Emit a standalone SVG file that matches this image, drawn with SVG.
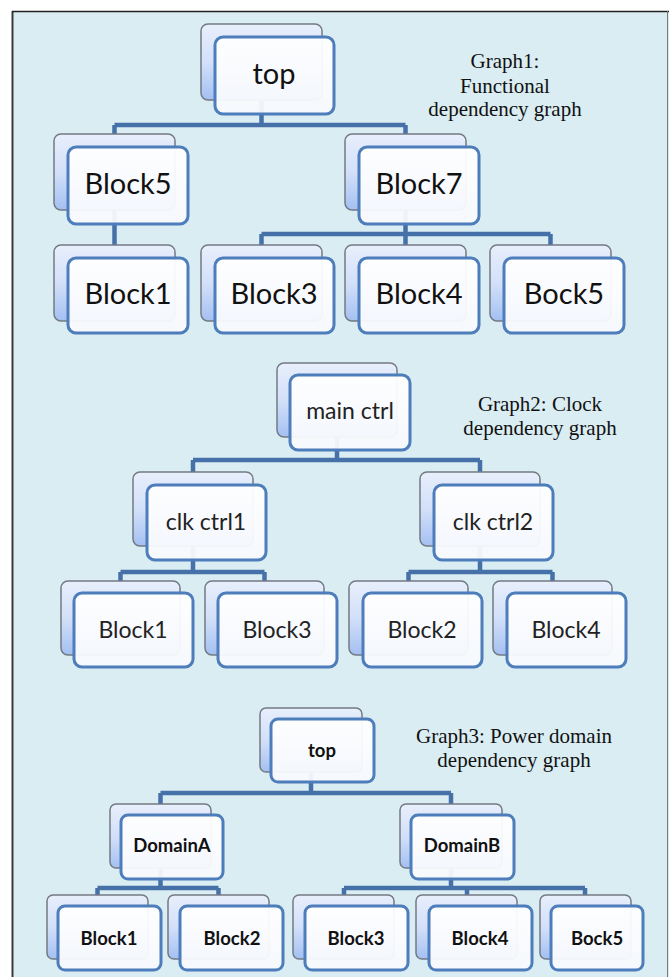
<svg xmlns="http://www.w3.org/2000/svg" width="669" height="977" viewBox="0 0 669 977">
<defs>
<linearGradient id="gb" x1="0" y1="0" x2="0" y2="1">
<stop offset="0" stop-color="#e8effc"/>
<stop offset="0.5" stop-color="#d3e0f9"/>
<stop offset="1" stop-color="#a3c0f2"/>
</linearGradient>
<linearGradient id="gf" x1="0" y1="0" x2="0" y2="1">
<stop offset="0" stop-color="#ffffff"/>
<stop offset="1" stop-color="#f7f9fd"/>
</linearGradient>
<style>
.bk{fill:url(#gb);stroke:#747a84;stroke-width:1.5}
.fr{fill:url(#gf);fill-opacity:0.95;stroke:#4d7dbb;stroke-width:3}
.cn{fill:none;stroke:#4670a8;stroke-width:4.5;stroke-linejoin:miter}
.t1{font-family:Lato,"Open Sans",sans-serif;font-size:29px;fill:#111;text-anchor:middle}
.t2{font-family:Lato,"Open Sans",sans-serif;font-size:23px;fill:#222;text-anchor:middle}
.t3{font-family:Lato,"Open Sans",sans-serif;font-size:18.5px;font-weight:bold;fill:#111;text-anchor:middle}
.lb{font-family:"Liberation Serif","Times New Roman",serif;font-size:21px;fill:#111;text-anchor:middle}
</style>
</defs>
<rect x="12" y="11" width="657" height="970" fill="#daedf3"/>
<line x1="12.5" y1="11" x2="12.5" y2="977" stroke="#3a3a3a" stroke-width="2"/>
<line x1="12" y1="11.5" x2="669" y2="11.5" stroke="#222" stroke-width="1.5"/>
<line x1="667.5" y1="11" x2="667.5" y2="977" stroke="#777" stroke-width="1"/>

<g id="connectors">
<path class="cn" d="M261.5 100 V125 M114.5 125 H405.5 M114.5 125 V134 M405.5 125 V134"/>
<path class="cn" d="M114.5 210 V245"/>
<path class="cn" d="M405.5 210 V234 M261.5 234 H550.5 M261.5 234 V245 M405.5 234 V245 M550.5 234 V245"/>
<path class="cn" d="M337 437 V460 M193 460 H480 M193 460 V472 M480 460 V472"/>
<path class="cn" d="M193 546 V572 M120.5 572 H264.5 M120.5 572 V581 M264.5 572 V581"/>
<path class="cn" d="M480 546 V572 M408.5 572 H552.5 M408.5 572 V581 M552.5 572 V581"/>
<path class="cn" d="M311 772 V793 M160.5 793 H451 M160.5 793 V804 M451 793 V804"/>
<path class="cn" d="M160.5 868 V888 M97.5 888 H218.5 M97.5 888 V895 M218.5 888 V895"/>
<path class="cn" d="M451 868 V888 M344 888 H585 M344 888 V895 M467 888 V895 M585 888 V895"/>
</g>

<g id="g1-top"><rect class="bk" x="201" y="24" width="121" height="76" rx="7"/><rect class="fr" x="215" y="37" width="119" height="77" rx="8"/><text class="t1" x="274" y="84">top</text></g>
<g id="g1-block5"><rect class="bk" x="54" y="134" width="121" height="76" rx="7"/><rect class="fr" x="68" y="147" width="120" height="77" rx="8"/><text class="t1" x="128" y="194">Block5</text></g>
<g id="g1-block7"><rect class="bk" x="345" y="134" width="121" height="76" rx="7"/><rect class="fr" x="359" y="147" width="120" height="77" rx="8"/><text class="t1" x="419" y="194">Block7</text></g>
<g id="g1-block1"><rect class="bk" x="54" y="245" width="121" height="76" rx="7"/><rect class="fr" x="68" y="258" width="120" height="75" rx="8"/><text class="t1" x="128" y="304">Block1</text></g>
<g id="g1-block3"><rect class="bk" x="201" y="245" width="121" height="76" rx="7"/><rect class="fr" x="215" y="258" width="119" height="75" rx="8"/><text class="t1" x="274" y="304">Block3</text></g>
<g id="g1-block4"><rect class="bk" x="345" y="245" width="121" height="76" rx="7"/><rect class="fr" x="359" y="258" width="120" height="75" rx="8"/><text class="t1" x="419" y="304">Block4</text></g>
<g id="g1-bock5"><rect class="bk" x="490" y="245" width="121" height="76" rx="7"/><rect class="fr" x="504" y="258" width="120" height="75" rx="8"/><text class="t1" x="564" y="304">Bock5</text></g>

<g id="g2-mainctrl"><rect class="bk" x="277" y="363" width="120" height="74" rx="7"/><rect class="fr" x="290" y="375" width="120" height="75" rx="8"/><text class="t2" x="350" y="419">main ctrl</text></g>
<g id="g2-clkctrl1"><rect class="bk" x="133" y="472" width="120" height="74" rx="7"/><rect class="fr" x="147" y="485" width="119" height="75" rx="8"/><text class="t2" x="206" y="530">clk ctrl1</text></g>
<g id="g2-clkctrl2"><rect class="bk" x="420" y="472" width="120" height="74" rx="7"/><rect class="fr" x="434" y="485" width="119" height="75" rx="8"/><text class="t2" x="493" y="530">clk ctrl2</text></g>
<g id="g2-block1"><rect class="bk" x="61" y="581" width="119" height="74" rx="7"/><rect class="fr" x="74" y="593" width="119" height="74" rx="8"/><text class="t2" x="133" y="638">Block1</text></g>
<g id="g2-block3"><rect class="bk" x="205" y="581" width="119" height="74" rx="7"/><rect class="fr" x="218" y="593" width="119" height="74" rx="8"/><text class="t2" x="277" y="638">Block3</text></g>
<g id="g2-block2"><rect class="bk" x="349" y="581" width="119" height="74" rx="7"/><rect class="fr" x="363" y="593" width="119" height="74" rx="8"/><text class="t2" x="422" y="638">Block2</text></g>
<g id="g2-block4"><rect class="bk" x="493" y="581" width="119" height="74" rx="7"/><rect class="fr" x="507" y="593" width="119" height="74" rx="8"/><text class="t2" x="566" y="638">Block4</text></g>

<g id="g3-top"><rect class="bk" x="260" y="708" width="102" height="64" rx="6"/><rect class="fr" x="271" y="719" width="103" height="63" rx="7"/><text class="t3" x="322" y="757">top</text></g>
<g id="g3-domainA"><rect class="bk" x="110" y="804" width="101" height="64" rx="6"/><rect class="fr" x="121" y="815" width="102" height="64" rx="7"/><text class="t3" x="172" y="852">DomainA</text></g>
<g id="g3-domainB"><rect class="bk" x="400" y="804" width="102" height="64" rx="6"/><rect class="fr" x="411" y="815" width="103" height="64" rx="7"/><text class="t3" x="462" y="852">DomainB</text></g>
<g id="g3-block1"><rect class="bk" x="47" y="895" width="101" height="64" rx="6"/><rect class="fr" x="58" y="906" width="103" height="64" rx="7"/><text class="t3" x="109" y="945">Block1</text></g>
<g id="g3-block2"><rect class="bk" x="168" y="895" width="101" height="64" rx="6"/><rect class="fr" x="180" y="906" width="103" height="64" rx="7"/><text class="t3" x="232" y="945">Block2</text></g>
<g id="g3-block3"><rect class="bk" x="293" y="895" width="101" height="64" rx="6"/><rect class="fr" x="305" y="906" width="103" height="64" rx="7"/><text class="t3" x="356" y="945">Block3</text></g>
<g id="g3-block4"><rect class="bk" x="416" y="895" width="101" height="64" rx="6"/><rect class="fr" x="429" y="906" width="103" height="64" rx="7"/><text class="t3" x="480" y="945">Block4</text></g>
<g id="g3-bock5"><rect class="bk" x="540" y="895" width="91" height="64" rx="6"/><rect class="fr" x="551" y="906" width="92" height="64" rx="7"/><text class="t3" x="597" y="945">Bock5</text></g>

<g id="labels">
<text class="lb" x="505" y="68">Graph1:</text>
<text class="lb" x="505" y="93">Functional</text>
<text class="lb" x="505" y="116">dependency graph</text>
<text class="lb" x="540" y="411">Graph2: Clock</text>
<text class="lb" x="540" y="435">dependency graph</text>
<text class="lb" x="514" y="743">Graph3: Power domain</text>
<text class="lb" x="514" y="767">dependency graph</text>
</g>
</svg>
